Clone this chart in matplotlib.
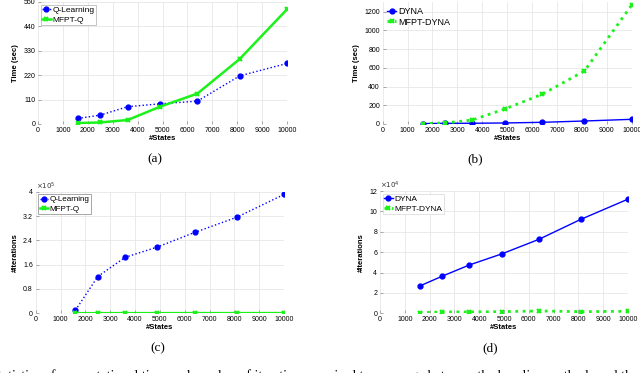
import matplotlib
matplotlib.use("Agg")
import matplotlib.pyplot as plt
from matplotlib.ticker import FuncFormatter

plt.rcParams['font.family'] = ['Liberation Sans', 'DejaVu Sans']

states = [1600, 2500, 3600, 4900, 6400, 8100, 10000]
# (a) time, Q-learning vs MFPT-Q
time_q = [25, 40, 78, 91, 103, 217, 273]
time_mfpt_q = [4, 7, 18, 78, 137, 293, 517]
# (b) time, DYNA vs MFPT-DYNA
time_dyna = [5, 7, 8, 11, 18, 32, 50]
time_mfpt_dyna = [4, 11, 43, 160, 317, 566, 1271]
# (c) iterations, Q-learning vs MFPT-Q
iter_q = [10000, 121000, 184000, 218000, 266000, 316000, 391000]
iter_mfpt_q = [300, 400, 500, 500, 600, 600, 700]
# (d) iterations, DYNA vs MFPT-DYNA
iter_dyna = [26800, 36300, 47400, 58200, 72500, 92200, 112000]
iter_mfpt_dyna = [700, 1300, 1300, 1600, 2300, 1600, 2000]

xticks = [0, 1000, 2000, 3000, 4000, 5000, 6000, 7000, 8000, 9000, 10000]
yticks_a = [0, 110, 220, 330, 440, 550]
yticks_b = [0, 200, 400, 600, 800, 1000, 1200]
yticks_c = [0, 0.8e5, 1.6e5, 2.4e5, 3.2e5, 4e5]
yticks_d = [0, 2e4, 4e4, 6e4, 8e4, 10e4, 12e4]

fig = plt.figure(figsize=(6.4, 3.73), dpi=100)

W, H = 640.0, 373.0
def rect(l, r, t, b):
    return [l / W, 1 - b / H, (r - l) / W, (b - t) / H]

BLUE = (0, 0, 1)
GREEN = (0.1, 0.95, 0.1)

def style(ax, yticks, ylim, ylabel):
    ax.set_xlim(0, 10000)
    ax.set_ylim(*ylim)
    ax.set_xticks(xticks)
    ax.set_yticks(yticks)
    for s in ax.spines.values():
        s.set_visible(False)
    ax.grid(True, color='#e6e6e6', linewidth=0.6)
    ax.set_axisbelow(True)
    ax.tick_params(direction='in', length=2, width=0.5, color='#888888',
                   labelsize=5, pad=2)
    ax.set_xlabel('#States', fontsize=5.5, fontweight='bold', labelpad=1)
    ax.set_ylabel(ylabel, fontsize=5.5, fontweight='bold', labelpad=3)

def sci(ax, exp):
    scale = 10.0 ** exp
    ax.yaxis.set_major_formatter(FuncFormatter(lambda v, p: f'{v / scale:g}'))
    ax.text(0.0, 1.0, r'$\times10^{%d}$' % exp, transform=ax.transAxes,
            fontsize=5, ha='left', va='bottom', color='#333333')

# (a)
ax = fig.add_axes(rect(38, 287, 2, 124))
ax.plot(states, time_q, ':', color=BLUE, lw=1.0, marker='o', ms=3.5, label='Q-Learning')
ax.plot(states, time_mfpt_q, '-', color=GREEN, lw=1.8, marker='x', ms=3.5, mew=1.5, label='MFPT-Q')
style(ax, yticks_a, (0, 550), 'Time (sec)')
ax.legend(loc='upper left', fontsize=6, frameon=True, fancybox=False,
          edgecolor='#bbbbbb', framealpha=1, handlelength=1.0, handletextpad=0.2,
          borderpad=0.2, labelspacing=0.2, borderaxespad=0.3).get_frame().set_linewidth(0.6)

# (b)
ax = fig.add_axes(rect(382.7, 631.7, 2.3, 124))
ax.plot(states, time_dyna, '-', color=BLUE, lw=1.0, marker='o', ms=3.5, label='DYNA')
ax.plot(states, time_mfpt_dyna, ':', color=GREEN, lw=2.0, marker='x', ms=3.5, mew=1.5, label='MFPT-DYNA')
style(ax, yticks_b, (0, 1300), 'Time (sec)')
ax.legend(loc='upper left', fontsize=6.5, frameon=False, handlelength=1.0,
          handletextpad=0.2, borderpad=0.2, labelspacing=0.2, borderaxespad=0.3)

# (c)
ax = fig.add_axes(rect(35.7, 284, 191.7, 313.3))
ax.plot(states, iter_q, ':', color=BLUE, lw=1.0, marker='o', ms=3.5, label='Q-Learning')
ax.plot(states, iter_mfpt_q, '-', color=GREEN, lw=1.8, marker='x', ms=3.5, mew=1.5, label='MFPT-Q')
style(ax, yticks_c, (0, 4e5), '#Iterations')
sci(ax, 5)
ax.legend(loc='upper left', fontsize=5.8, frameon=True, fancybox=False,
          edgecolor='#999999', framealpha=1, handlelength=1.0, handletextpad=0.2,
          borderpad=0.2, labelspacing=0.2, borderaxespad=0.3).get_frame().set_linewidth(0.6)

# (d)
ax = fig.add_axes(rect(380, 628, 191, 313.3))
ax.plot(states, iter_dyna, '-', color=BLUE, lw=1.0, marker='o', ms=3.5, label='DYNA')
ax.plot(states, iter_mfpt_dyna, ':', color=GREEN, lw=2.0, marker='x', ms=3.5, mew=1.5, label='MFPT-DYNA')
style(ax, yticks_d, (0, 12e4), '#Iterations')
sci(ax, 4)
ax.legend(loc='upper left', fontsize=6, frameon=True, fancybox=False,
          edgecolor='#dddddd', framealpha=1, handlelength=1.0, handletextpad=0.2,
          borderpad=0.2, labelspacing=0.2, borderaxespad=0.3).get_frame().set_linewidth(0.6)

# captions
for x, y, s in [(155, 159, '(a)'), (475, 159, '(b)'), (158, 348, '(c)'), (490, 348, '(d)')]:
    fig.text(x / W, 1 - y / H, s, ha='center', va='center', fontsize=9.5,
             family='Liberation Serif')

fig.text(-2 / W, 1 - 380 / H,
         'tatistics of computational time and number of iterations required to converge '
         'between the baseline methods and the proposed',
         ha='left', va='baseline', fontsize=10, family='Liberation Serif')

fig.savefig('out.png', dpi=100)
